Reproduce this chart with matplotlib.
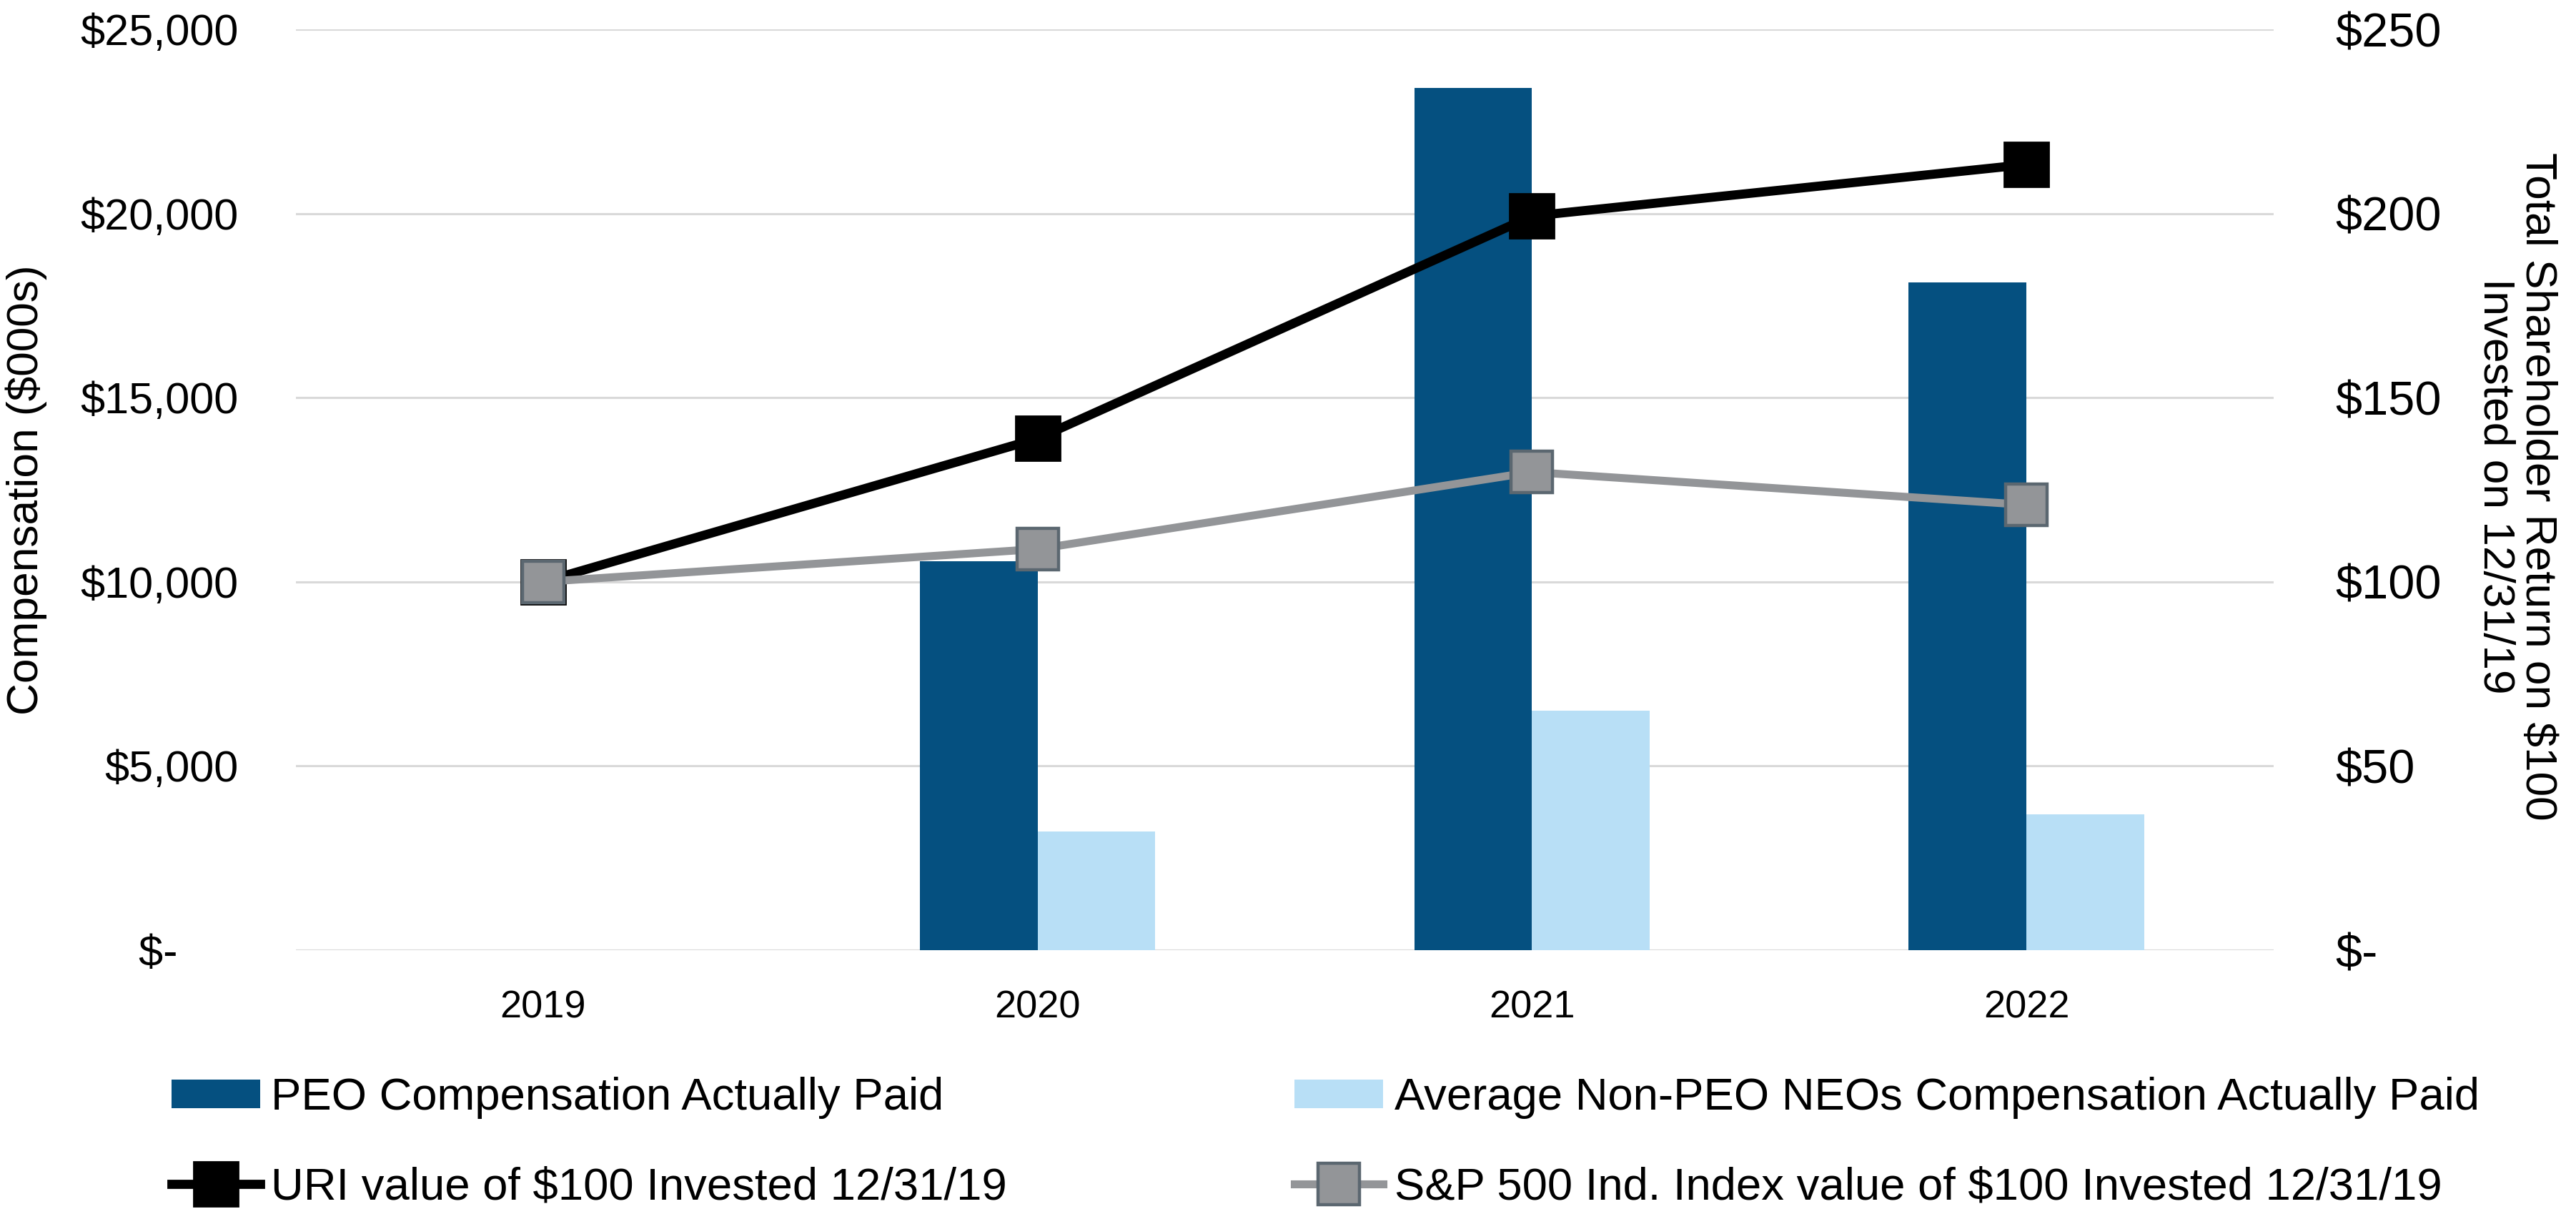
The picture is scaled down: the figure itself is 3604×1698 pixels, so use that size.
import numpy as np
import matplotlib
matplotlib.use("Agg")
import matplotlib.pyplot as plt
from matplotlib.ticker import FuncFormatter

plt.rcParams['font.family'] = ['Liberation Sans', 'DejaVu Sans']

years = ['2019', '2020', '2021', '2022']
peo_cap = [0, 10560, 23410, 18120]          # $000s
neo_cap = [0, 3215, 6500, 3680]             # $000s
uri_tsr = [100, 138.9, 199.3, 213.3]
sp_tsr = [100, 108.9, 129.8, 120.9]

dark_blue = '#055080'
light_blue = '#B8DFF6'
gray = '#939598'
gray_edge = '#5B6770'

W, H, DPI = 3604, 1698, 200
fig = plt.figure(figsize=(W / DPI, H / DPI), dpi=DPI)
ax = fig.add_axes([414 / W, 1 - 1329 / H, (3181 - 414) / W, (1329 - 41) / H])
ax2 = ax.twinx()

x = np.arange(len(years))
bw = 0.238
ax.bar(x - bw / 2, peo_cap, bw, color=dark_blue, label='PEO Compensation Actually Paid', zorder=2)
ax.bar(x + bw / 2, neo_cap, bw, color=light_blue,
       label='Average Non-PEO NEOs Compensation Actually Paid', zorder=2)

l1, = ax2.plot(x, uri_tsr, color='black', lw=4.6, marker='s', ms=22,
               mfc='black', mec='black', mew=1,
               label='URI value of $100 Invested 12/31/19')
l2, = ax2.plot(x, sp_tsr, color=gray, lw=4.0, marker='s', ms=21,
               mfc=gray, mec=gray_edge, mew=1.6,
               label='S&P 500 Ind. Index value of $100 Invested 12/31/19')

ax.set_xlim(-0.5, 3.5)
ax.set_ylim(0, 25000)
ax2.set_ylim(0, 250)
ax.set_yticks(np.arange(0, 25001, 5000))
ax2.set_yticks(np.arange(0, 251, 50))
ax.set_xticks(x)
ax.set_xticklabels(years)

ax.yaxis.set_major_formatter(FuncFormatter(lambda v, p: '$-     ' if v == 0 else '${:,.0f}'.format(v)))
ax2.yaxis.set_major_formatter(FuncFormatter(lambda v, p: '$-' if v == 0 else '${:,.0f}'.format(v)))

ax.grid(axis='y', color='#D9D9D9', lw=1.1, zorder=0)
ax.set_axisbelow(True)
for a in (ax, ax2):
    for s in a.spines.values():
        s.set_visible(False)
ax.tick_params(axis='y', length=0, pad=29, labelsize=22)
ax.tick_params(axis='x', length=0, pad=20, labelsize=19.5)
ax2.tick_params(axis='y', length=0, pad=31, labelsize=24)

fig.text(37 / W, 1 - 685 / H, 'Compensation ($000s)', rotation=90,
         ha='center', va='center', fontsize=22.4)
fig.text(3520 / W, 1 - 680 / H, 'Total Shareholder Return on $100\nInvested on 12/31/19',
         rotation=270, ha='center', va='center', fontsize=22.4, linespacing=1.05)

bars = ax.containers
handles = [bars[0], l1, bars[1], l2]
labels = [h.get_label() for h in handles]
fig.legend(handles, labels, ncol=2, loc='upper left',
           bbox_to_anchor=(240 / W, 1 - 1506 / H), frameon=False,
           fontsize=22.8, handlelength=1.95, handleheight=0.6,
           handletextpad=0.25, columnspacing=6.35, labelspacing=1.05,
           borderpad=0, borderaxespad=0)

fig.savefig('out.png', dpi=DPI)
